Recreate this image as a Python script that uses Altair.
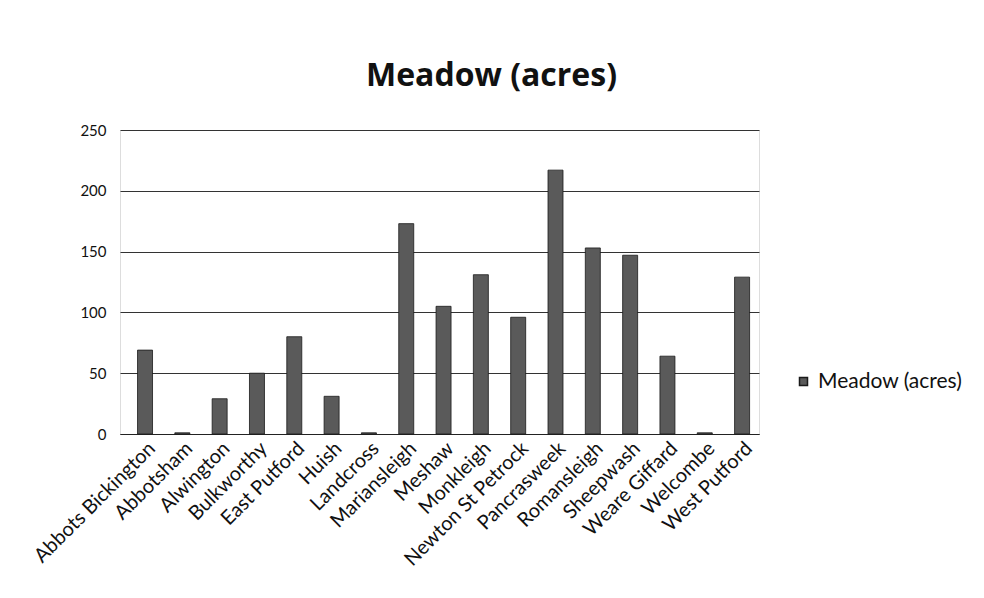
import altair as alt
import pandas as pd

# Meadow acreage per parish
parishes = [
    "Abbots Bickington", "Abbotsham", "Alwington", "Bulkworthy", "East Putford",
    "Huish", "Landcross", "Mariansleigh", "Meshaw", "Monkleigh",
    "Newton St Petrock", "Pancrasweek", "Romansleigh", "Sheepwash",
    "Weare Giffard", "Welcombe", "West Putford",
]
meadow_acres = [69, 1, 29, 50, 80, 31, 1, 173, 105, 131, 96, 217, 153, 147, 64, 1, 129]
series_name = "Meadow (acres)"
y_ticks = [0, 50, 100, 150, 200, 250]

df = pd.DataFrame({
    "parish": parishes,
    "acres": meadow_acres,
    "series": [series_name] * len(parishes),
})

font = "Lato"

bars = alt.Chart(df).mark_bar(
    size=15, stroke="#1a1a1a", strokeWidth=0.8
).encode(
    x=alt.X(
        "parish:N", sort=None, title=None,
        scale=alt.Scale(paddingInner=0.6, paddingOuter=0.362, align=0.65),
        axis=alt.Axis(
            labelAngle=-45, labelAlign="right", labelBaseline="top",
            labelFont=font, labelFontSize=20, labelColor="#111",
            ticks=False, domain=True, domainColor="#222", grid=False,
            labelPadding=4, labelOverlap=False, labelLimit=300,
        ),
    ),
    y=alt.Y(
        "acres:Q", title=None,
        scale=alt.Scale(domain=[0, 250], nice=False),
        axis=alt.Axis(
            values=y_ticks, labelFont=font, labelFontSize=15, labelColor="#111",
            ticks=False, domain=False, grid=True, gridColor="#333333",
            gridWidth=1, labelPadding=14,
        ),
    ),
    color=alt.Color(
        "series:N", title=None,
        scale=alt.Scale(range=["#5a5a5a"]),
        legend=alt.Legend(
            orient="none", legendX=673, legendY=241,
            symbolType="square", symbolSize=64, symbolStrokeColor="#1a1a1a",
            labelFont=font, labelFontSize=21, labelColor="#111",
        ),
    ),
)

chart = bars.properties(
    width=639,
    height=304,
    padding={"left": 120, "top": 130, "right": 225, "bottom": 164},
    autosize=alt.AutoSizeParams(type="none"),
    title=alt.TitleParams(
        series_name, font="Open Sans", fontSize=32, fontWeight="bold",
        color="#111", offset=30, anchor="middle", dx=52,
    ),
).configure_view(stroke=None).configure(background="white")

chart.save("out.html", embed_options={"renderer": "svg", "actions": False})
